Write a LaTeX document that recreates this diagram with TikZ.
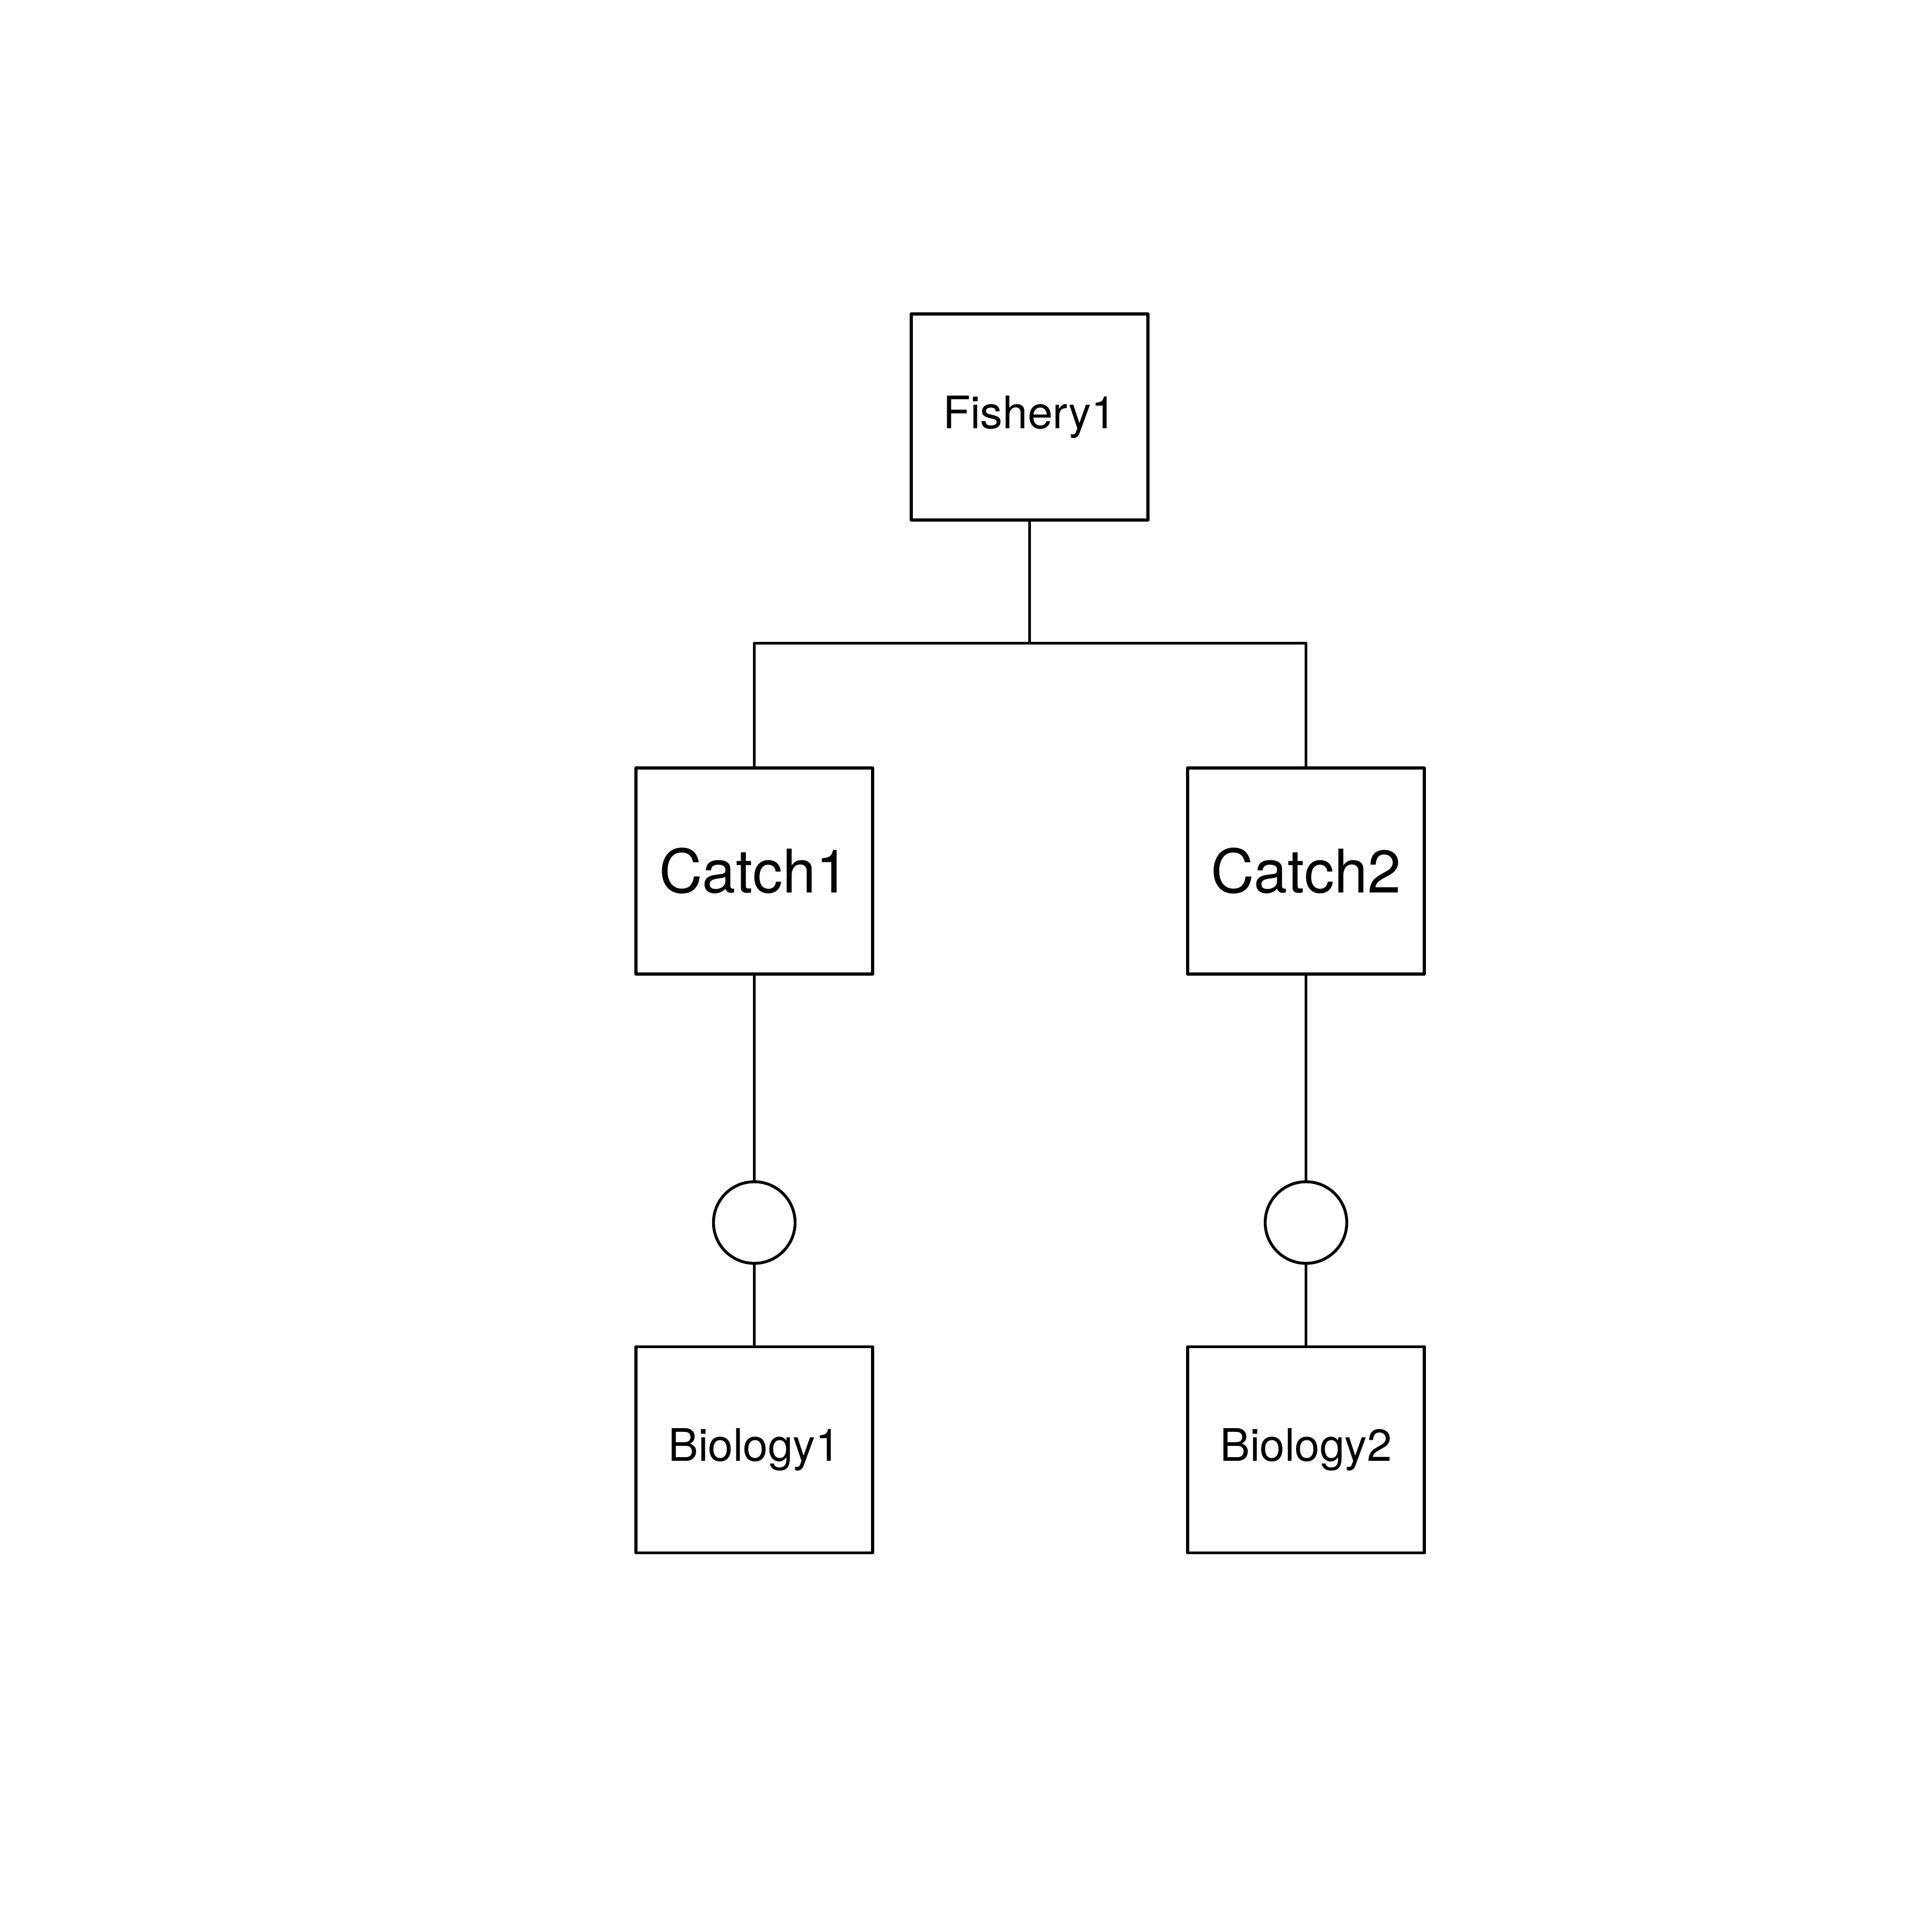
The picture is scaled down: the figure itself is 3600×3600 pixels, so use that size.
\documentclass[tikz,border=0pt]{standalone}
\usepackage{fontspec}
\setmainfont{TeX Gyre Heros}
\begin{document}
\begin{tikzpicture}[x=0.0055556cm,y=-0.0055556cm,
  line width=0.85pt, line cap=round, line join=round,
  box/.style={draw, rectangle, minimum width=2.45cm, minimum height=2.1333cm, inner sep=0pt},
  smallt/.style={font=\fontsize{13.2}{16}\selectfont},
  bigt/.style={font=\fontsize{17.7}{21}\selectfont},
  junc/.style={draw, circle, minimum size=0.8444cm, inner sep=0pt}]
\useasboundingbox (0,0) rectangle (3600,3600);
\node[box, smallt] (fish) at (1918.5,777) {Fishery1};
\node[box, bigt] (c1) at (1405.5,1623) {Catch1};
\node[box, bigt] (c2) at (2433.5,1623) {Catch2};
\node[junc] (j1) at (1405.5,2278) {};
\node[junc] (j2) at (2433.5,2278) {};
\node[box, smallt] (b1) at (1405.5,2701.5) {Biology1};
\node[box, smallt] (b2) at (2433.5,2701.5) {Biology2};
\coordinate (bus) at (1918.5,1198.5);
\draw (fish.south) -- (bus);
\draw (c1.north) |- (bus) -| (c2.north);
\draw (c1.south) -- (j1.north);
\draw (j1.south) -- (b1.north);
\draw (c2.south) -- (j2.north);
\draw (j2.south) -- (b2.north);
\end{tikzpicture}
\end{document}
